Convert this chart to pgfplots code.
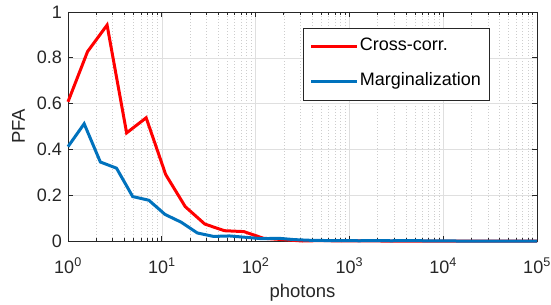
\documentclass[border=0pt]{standalone}
\usepackage{fontspec}
\setmainfont{Liberation Sans}
\usepackage{pgfplots}
\pgfplotsset{compat=1.18}
\definecolor{mred}{rgb}{1,0,0}
\definecolor{mblue}{rgb}{0,0.447,0.741}
\definecolor{axgray}{rgb}{0.15,0.15,0.15}
\definecolor{gridmaj}{RGB}{223,223,223}
\definecolor{gridmin}{RGB}{205,205,205}
\begin{document}
\begin{tikzpicture}
\begin{axis}[
  scale only axis, width=469bp, height=229bp,
  xmode=log, xmin=1, xmax=1e5, ymin=0, ymax=1,
  clip=false,
  xtick={1,10,100,1000,10000,100000},
  xticklabels={10\textsuperscript{0},10\textsuperscript{1},10\textsuperscript{2},10\textsuperscript{3},10\textsuperscript{4},10\textsuperscript{5}},
  ytick={0,0.2,0.4,0.6,0.8,1},
  yticklabels={0,0.2,0.4,0.6,0.8,1},
  grid=both,
  major grid style={color=gridmaj, line width=0.6pt},
  minor grid style={color=gridmin, line width=0.6pt, dash pattern=on 0.6pt off 2.4pt},
  axis line style={color=axgray, line width=0.7pt},
  every tick/.style={color=axgray, line width=0.7pt},
  major tick length=5bp, minor tick length=3.5bp,
  tick label style={font=\fontsize{18bp}{21bp}\selectfont, text=axgray, inner sep=0pt},
  xticklabel style={anchor=base, yshift=-32bp},
  yticklabel style={anchor=east, xshift=-6bp},
  xlabel={photons}, ylabel={PFA},
  label style={font=\fontsize{18.5bp}{22bp}\selectfont, text=axgray},
  xlabel style={at={(axis description cs:0.5,-0.227)}, anchor=center},
  ylabel style={at={(axis description cs:-0.1055,0.5)}, anchor=center},
  legend style={at={(rel axis cs:0.898,0.932)}, anchor=north east, draw=axgray, line width=0.6pt,
    font=\fontsize{18bp}{21bp}\selectfont, text=black,
    inner xsep=7bp, inner ysep=9bp, row sep=16bp,
    nodes={inner sep=1bp, text height=13bp, text depth=4bp}},
  legend cell align=left,
  legend image code/.code={\draw[#1] (0bp,0bp) -- (46bp,0bp);},
]
\addplot[color=mred, line width=3bp] coordinates {
(1,0.608) (1.6155,0.827) (2.6102,0.943) (4.2170,0.472) (6.8129,0.538)
(11.007,0.290) (17.783,0.150) (28.73,0.074) (46.42,0.045) (74.99,0.041)
(121.15,0.012) (195.7,0.006) (316.2,0.000) (510.9,0.002) (825.4,0.000)
(1333.5,0.001) (2154.4,0.000) (3480.7,0.000) (5623.4,0.000) (9085.2,0.000)
(14678,0.000) (23714,0.000) (38312,0.000) (61897,0.000) (100000,0.000)
};
\addlegendentry{Cross-corr.}
\addplot[color=mblue, line width=3bp] coordinates {
(1,0.412) (1.4873,0.512) (2.2122,0.345) (3.2903,0.318) (4.8939,0.194)
(7.2790,0.178) (10.826,0.116) (16.103,0.082) (23.950,0.035) (35.622,0.020)
(52.983,0.022) (78.805,0.016) (117.21,0.010) (174.33,0.012) (259.29,0.006)
(385.66,0.003) (573.6,0.002) (853.2,0.002) (1269,0.001) (1887,0.002)
(2807,0.001) (4175,0.002) (6210,0.001) (9237,0.001) (13738,0.000)
(20434,0.000) (30392,0.000) (45204,0.000) (67234,0.000) (100000,0.000)
};
\addlegendentry{Marginalization}
\end{axis}
\pgfresetboundingbox
\path[use as bounding box] ([xshift=-68bp,yshift=-64bp]current axis.south west) rectangle ([xshift=14bp,yshift=12bp]current axis.north east);
\end{tikzpicture}
\end{document}
